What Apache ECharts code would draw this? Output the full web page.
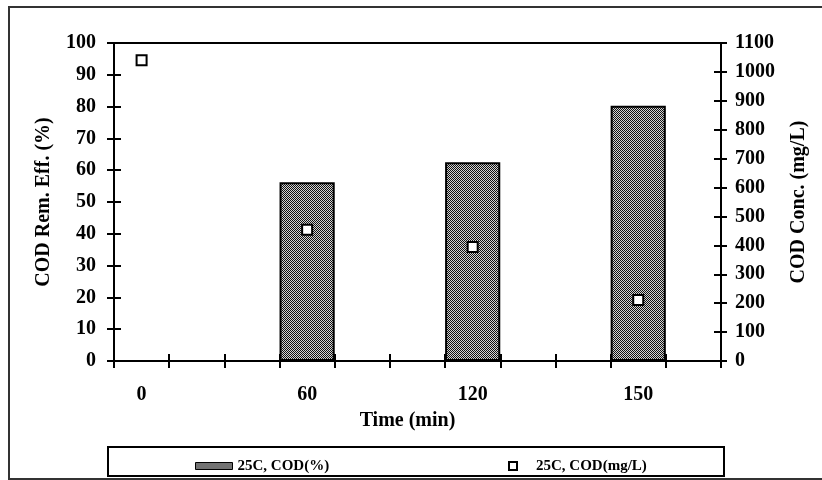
<!DOCTYPE html>
<html>
<head>
<meta charset="utf-8">
<script src="https://cdn.jsdelivr.net/npm/echarts@6/dist/echarts.min.js"></script>
<style>
  html, body { margin: 0; padding: 0; background: #fff; }
  #chart { width: 822px; height: 480px; }
</style>
</head>
<body>
<div id="chart"></div>
<script>
// x slots (the original axis has 11 tick intervals, labels every 3rd)
const categories = ['0', '', '', '60', '', '', '120', '', '', '150', '']
// COD removal efficiency (%), bars
const codRemoval = [null, null, null, 56.2, null, null, 62.5, null, null, 80.3, null]
// COD concentration (mg/L), square markers
const codConc = [1040, null, null, 454, null, null, 394, null, null, 211, null]

const serif = 'Liberation Serif'

// checkered fill like the excel pattern
function makePattern() {
  const c = document.createElement('canvas')
  c.width = 2
  c.height = 2
  const ctx = c.getContext('2d')
  ctx.fillStyle = '#d4d4d4'
  ctx.fillRect(0, 0, 2, 2)
  ctx.fillStyle = '#111111'
  ctx.fillRect(0, 0, 1, 1)
  ctx.fillRect(1, 1, 1, 1)
  return c
}
const pattern = { image: makePattern(), repeat: 'repeat' }

const labelStyle = {
  fontFamily: serif,
  fontWeight: 'bold',
  fontSize: 20,
  color: '#000'
}
const legendText = { fontFamily: serif, fontWeight: 'bold', fontSize: 15, color: '#000', lineHeight: 16 }

const chart = echarts.init(document.getElementById('chart'))
chart.setOption({
  animation: false,
  backgroundColor: '#fff',
  grid: {
    left: 114,
    right: 101,
    top: 43,
    bottom: 119,
    show: true,
    borderColor: '#000',
    borderWidth: 2
  },
  xAxis: [{
    type: 'category',
    data: categories,
    boundaryGap: true,
    name: 'Time (min)',
    nameLocation: 'middle',
    nameGap: 50,
    nameTextStyle: Object.assign({}, labelStyle, { padding: [0, 20, 0, 0] }),
    axisLine: { lineStyle: { color: '#000', width: 2 } },
    axisTick: { show: true, length: 7, interval: 0, lineStyle: { color: '#000', width: 2 } },
    axisLabel: Object.assign({}, labelStyle, { margin: 24, interval: 0 }),
    splitLine: { show: false }
  }, {
    // inner half of the crossing ticks
    type: 'category',
    data: categories,
    position: 'bottom',
    boundaryGap: true,
    axisLine: { show: false },
    axisTick: { show: true, inside: true, length: 7, interval: 0, lineStyle: { color: '#000', width: 2 } },
    axisLabel: { show: false },
    splitLine: { show: false }
  }],
  yAxis: [{
    type: 'value',
    position: 'left',
    min: 0,
    max: 100,
    interval: 10,
    name: 'COD Rem. Eff. (%)',
    nameLocation: 'middle',
    nameGap: 60,
    nameRotate: 90,
    nameTextStyle: labelStyle,
    axisLine: { show: true, lineStyle: { color: '#000', width: 2 } },
    axisTick: { show: true, length: 7, lineStyle: { color: '#000', width: 2 } },
    axisLabel: Object.assign({}, labelStyle, { margin: 18 }),
    splitLine: { show: false }
  }, {
    type: 'value',
    position: 'right',
    min: 0,
    max: 1100,
    interval: 100,
    name: 'COD Conc. (mg/L)',
    nameLocation: 'middle',
    nameGap: 68,
    nameRotate: 90,
    nameTextStyle: labelStyle,
    axisLine: { show: true, lineStyle: { color: '#000', width: 2 } },
    axisTick: { show: true, length: 6, lineStyle: { color: '#000', width: 2 } },
    axisLabel: Object.assign({}, labelStyle, { margin: 14, formatter: v => String(v) }),
    splitLine: { show: false }
  }, {
    type: 'value',
    position: 'left',
    min: 0,
    max: 100,
    interval: 10,
    axisLine: { show: false },
    axisTick: { show: true, inside: true, length: 7, lineStyle: { color: '#000', width: 2 } },
    axisLabel: { show: false },
    splitLine: { show: false }
  }, {
    type: 'value',
    position: 'right',
    min: 0,
    max: 1100,
    interval: 100,
    axisLine: { show: false },
    axisTick: { show: true, inside: true, length: 7, lineStyle: { color: '#000', width: 2 } },
    axisLabel: { show: false },
    splitLine: { show: false }
  }],
  legend: [{
    data: [{ name: '25C, COD(%)', icon: 'rect' }],
    left: 190,
    top: 453,
    itemWidth: 37,
    itemHeight: 7,
    itemStyle: { color: pattern, borderWidth: 1, borderColor: '#000' },
    textStyle: legendText
  }, {
    data: ['25C, COD(mg/L)'],
    left: 503,
    top: 453,
    itemWidth: 8,
    itemHeight: 8,
    textStyle: Object.assign({}, legendText, { padding: [0, 0, 0, 14] })
  }],
  graphic: [{
    // outer frame
    type: 'rect',
    shape: { x: 9, y: 7, width: 840, height: 472 },
    style: { fill: 'none', stroke: '#333', lineWidth: 2 },
    silent: true
  }, {
    // legend box
    type: 'rect',
    shape: { x: 108, y: 447, width: 616, height: 29 },
    style: { fill: 'none', stroke: '#000', lineWidth: 2 },
    silent: true
  }],
  series: [{
    name: '25C, COD(%)',
    type: 'bar',
    yAxisIndex: 0,
    barWidth: '100%',
    data: codRemoval,
    itemStyle: {
      color: pattern,
      borderColor: '#000',
      borderWidth: 2
    }
  }, {
    name: '25C, COD(mg/L)',
    type: 'scatter',
    yAxisIndex: 1,
    symbol: 'rect',
    symbolSize: 10,
    z: 5,
    data: codConc,
    itemStyle: {
      color: '#fff',
      borderColor: '#000',
      borderWidth: 2,
      opacity: 1
    }
  }]
})
</script>
</body>
</html>
